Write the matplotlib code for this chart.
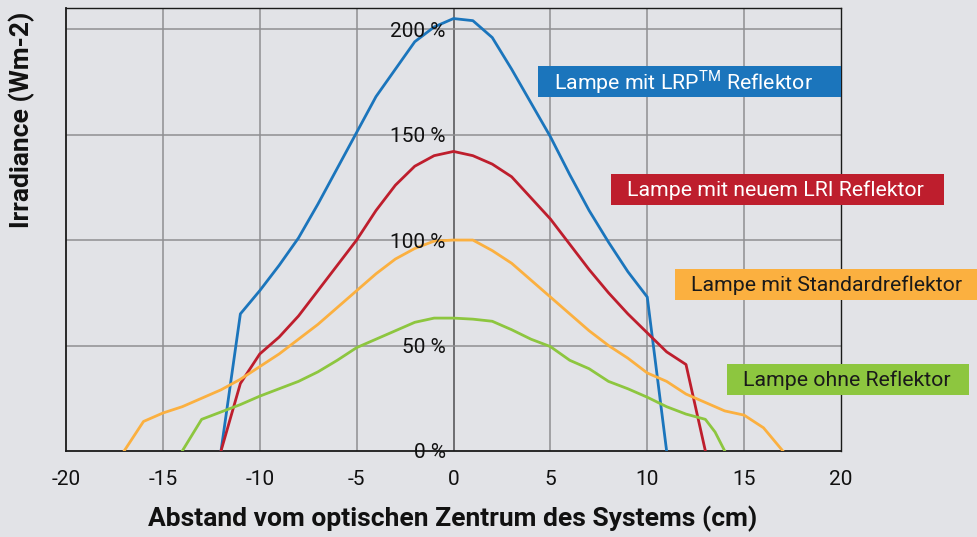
import matplotlib
matplotlib.use("Agg")
import matplotlib.pyplot as plt
from matplotlib.patches import Rectangle
from matplotlib.transforms import offset_copy

plt.rcParams["font.family"] = ["Roboto", "DejaVu Sans"]
plt.rcParams["mathtext.fontset"] = "custom"
plt.rcParams["mathtext.rm"] = "Roboto"

# Irradiance profiles (percent) vs distance from optical centre (cm)
x_lrp = [-12, -11, -10, -9, -8, -7, -6, -5, -4, -3, -2, -1, 0, 1, 2, 3, 4, 5, 6, 7, 8, 9, 10, 11]
y_lrp = [0, 65, 76, 88, 101, 117, 134, 151, 168, 181, 194, 201, 205, 204, 196, 181, 165, 149, 131, 114, 99, 85, 73, 0]

x_lri = [-12, -11, -10, -9, -8, -7, -6, -5, -4, -3, -2, -1, 0, 1, 2, 3, 4, 5, 6, 7, 8, 9, 10, 11, 12, 13]
y_lri = [0, 32, 46, 54, 64, 76, 88, 100, 114, 126, 135, 140, 142, 140, 136, 130, 120, 110, 98, 86, 75, 65, 56, 47, 41, 0]

x_std = [-17, -16, -15, -14, -13, -12, -11, -10, -9, -8, -7, -6, -5, -4, -3, -2, -1, 0, 1, 2, 3,
         4, 5, 6, 7, 8, 9, 10, 11, 12, 13, 14, 15, 16, 17]
y_std = [0, 14, 18, 21, 25, 29, 34, 40, 46, 53, 60, 68, 76, 84, 91, 96, 99.5, 100, 100, 95, 89,
         81, 73, 65, 57, 50, 44, 37, 33, 27, 23, 19, 17, 11, 0]

x_none = [-14, -13, -12, -11, -10, -9, -8, -7, -6, -5, -4, -3, -2, -1, 0, 1, 2, 3,
          4, 5, 6, 7, 8, 9, 10, 11, 12, 13, 13.5, 14]
y_none = [0, 15, 18.5, 22, 26, 29.5, 33, 37.5, 43, 49, 53, 57, 61, 63, 63, 62.5, 61.5, 57.5,
          53, 49.5, 43, 39, 33, 29.5, 25.5, 21, 17.5, 15, 9, 0]

x_ticks = [-20, -15, -10, -5, 0, 5, 10, 15, 20]
y_ticks = [0, 50, 100, 150, 200]
y_tick_labels = ["0 %", "50 %", "100 %", "150 %", "200 %"]

series_labels = ["Lampe mit LRP$^{\\mathrm{TM}}$ Reflektor",
                 "Lampe mit neuem LRI Reflektor",
                 "Lampe mit Standardreflektor",
                 "Lampe ohne Reflektor"]

BLUE, RED, ORANGE, GREEN = "#1b75bc", "#be1e2d", "#fbb040", "#8dc63f"
BG = "#e2e3e7"

W, H = 977, 537
fig = plt.figure(figsize=(W / 100, H / 100), dpi=100, facecolor=BG)
ax = fig.add_axes([66 / W, 86 / H, 775 / W, 443 / H])
ax.set_facecolor(BG)

ax.set_xlim(-20, 20)
ax.set_ylim(0, 210)

# grid
for gx in [-15, -10, -5, 5, 10, 15]:
    ax.axvline(gx, color="#8f8f92", lw=1.1, zorder=1)
ax.axvline(0, color="#6d6d70", lw=1.4, zorder=1)
for gy in [50, 100, 150, 200]:
    ax.axhline(gy, color="#8f8f92", lw=1.1, zorder=1)

lw = 2.0
ax.plot(x_lrp, y_lrp, color=BLUE, lw=lw, zorder=3)
ax.plot(x_lri, y_lri, color=RED, lw=lw, zorder=3)
ax.plot(x_std, y_std, color=ORANGE, lw=lw, zorder=3)
ax.plot(x_none, y_none, color=GREEN, lw=lw, zorder=3)

for s in ax.spines.values():
    s.set_color("#1a1a1a")
    s.set_linewidth(1.0)
ax.spines["left"].set_linewidth(1.3)
ax.spines["bottom"].set_linewidth(1.3)

ax.set_xticks(x_ticks)
ax.set_xticklabels([str(t) for t in x_ticks])
ax.set_yticks([])
ax.tick_params(axis="x", length=0, pad=14, labelsize=15, colors="#111111")

# y tick labels sit next to the centre line
lab_tr = offset_copy(ax.transData, fig=fig, x=-8, y=-2, units="dots")
for v, t in zip(y_ticks, y_tick_labels):
    ax.text(0, v, t, transform=lab_tr, ha="right", va="center",
            fontsize=15, color="#111111", zorder=4)

fig.text(22 / W, 1 - 120 / H, "Irradiance (Wm-2)", rotation=90, ha="center",
         va="center", fontsize=19, fontweight="bold", color="#111111")
fig.text(453 / W, 1 - 519 / H, "Abstand vom optischen Zentrum des Systems (cm)",
         ha="center", va="center", fontsize=19, fontweight="bold", color="#111111")

# coloured series labels
boxes = [
    (538, 66, 303, 31, BLUE, "white"),
    (611, 174, 333, 31, RED, "white"),
    (675, 269, 302, 31, ORANGE, "#1a1a1a"),
    (727, 364, 242, 31, GREEN, "#1a1a1a"),
]
for (bx, by, bw, bh, fc, tc), label in zip(boxes, series_labels):
    fig.patches.append(Rectangle((bx / W, 1 - (by + bh) / H), bw / W, bh / H,
                                 transform=fig.transFigure, facecolor=fc,
                                 edgecolor="none", zorder=5))
    fig.text((bx + 16) / W, 1 - (by + bh / 2 + 1) / H, label, ha="left", va="center",
             fontsize=15.3, color=tc, zorder=6)

fig.savefig("out.png", dpi=100, facecolor=BG)
